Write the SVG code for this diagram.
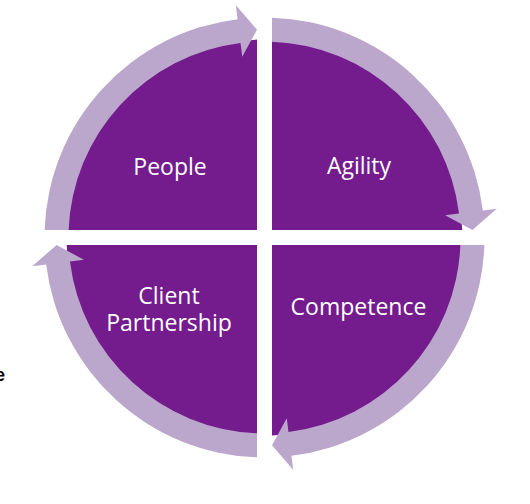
<svg xmlns="http://www.w3.org/2000/svg" xmlns:xlink="http://www.w3.org/1999/xlink" width="530" height="504" viewBox="0 0 530 504">
<style>
.q{fill:#741c8e}
.arc{fill:#bba7cb}
.lbl{font-family:"Open Sans","Noto Sans","Liberation Sans",sans-serif;font-size:23px;fill:#ffffff;text-anchor:middle}
.frag{font-family:"Liberation Sans",Arial,sans-serif;font-size:18px;font-weight:bold;fill:#000000}
</style>
<defs>
<path id="arrowArc" d="M 44.63,230 A 220 220 0 0 1 237.57,19.15 L 235.86,5.26 L 257,29.64 L 242.22,56.87 L 240.51,42.97 A 196 196 0 0 0 68.64,230 Z"/>
</defs>
<rect width="530" height="504" fill="#ffffff"/>
<g id="people">
<path class="q" d="M 257,230 L 66.7,230 A 198 198 0 0 1 257,39.6 Z"/>
<text class="lbl" x="170" y="175">People</text>
</g>
<g id="agility">
<path class="q" d="M 272,230 L 272,39.6 A 198 198 0 0 1 462.3,230 Z"/>
<text class="lbl" x="359" y="174">Agility</text>
</g>
<g id="competence">
<path class="q" d="M 272,245 L 462.3,245 A 198 198 0 0 1 272,435.4 Z"/>
<text class="lbl" x="358.5" y="315">Competence</text>
</g>
<g id="client-partnership">
<path class="q" d="M 257,245 L 257,435.4 A 198 198 0 0 1 66.7,245 Z"/>
<text class="lbl" x="169" y="304"><tspan x="169" y="304">Client</tspan><tspan x="169" y="331">Partnership</tspan></text>
</g>
<g id="connectors">
<use xlink:href="#arrowArc" class="arc"/>
<use xlink:href="#arrowArc" class="arc" transform="rotate(90 264.5 237.5)"/>
<use xlink:href="#arrowArc" class="arc" transform="rotate(180 264.5 237.5)"/>
<use xlink:href="#arrowArc" class="arc" transform="rotate(270 264.5 237.5)"/>
</g>
<text class="frag" x="-5" y="381">e</text>
</svg>
